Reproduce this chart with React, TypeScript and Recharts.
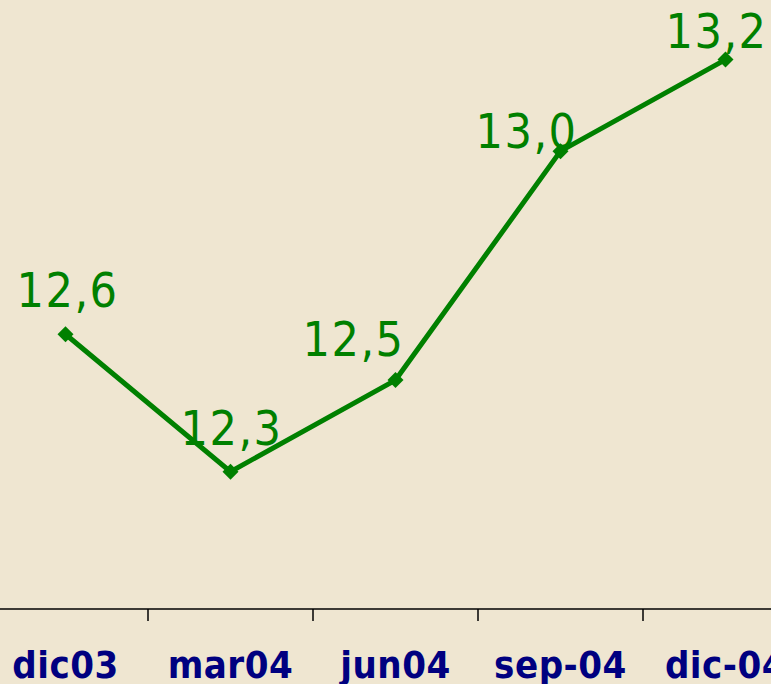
import React from 'react';
import { LineChart, Line, XAxis, YAxis, LabelList } from 'recharts';

const months = ['dic03', 'mar04', 'jun04', 'sep-04', 'dic-04'];
const rates = [12.6, 12.3, 12.5, 13.0, 13.2];

// hand-placed label nudges so the values sit clear of the line
const labelDx = [2, 1, -42, -34, -9];
const labelDy = [-27, -27, -24, -3, -12];

const data = months.map((month, i) => ({ month, rate: rates[i] }));

const BG = '#efe6d1';
const GREEN = '#008000';
const NAVY = '#000080';
const FONT = '"DejaVu Sans Condensed", "DejaVu Sans", sans-serif';

const STEP = 165;

function Diamond(props: any) {
  const { cx, cy } = props;
  if (cx == null || cy == null) return null;
  const r = 8;
  return (
    <path
      d={`M${cx},${cy - r} L${cx + r},${cy} L${cx},${cy + r} L${cx - r},${cy} Z`}
      fill={GREEN}
    />
  );
}

function MonthTick(props: any) {
  const { x, y, payload } = props;
  return (
    <g>
      <line x1={x + STEP / 2} x2={x + STEP / 2} y1={y} y2={y + 12} stroke="#000" strokeWidth={1.5} />
      <text
        x={x}
        y={y + 69}
        textAnchor="middle"
        fill={NAVY}
        fontSize={38}
        fontWeight="bold"
        fontFamily={FONT}
        letterSpacing={0.5}
      >
        {payload.value}
      </text>
    </g>
  );
}

function RateLabel(props: any) {
  const { x, y, value, index } = props;
  return (
    <text
      x={x + labelDx[index]}
      y={y + labelDy[index]}
      textAnchor="middle"
      fill={GREEN}
      fontSize={48}
      fontFamily={FONT}
      letterSpacing={1.5}
    >
      {Number(value).toFixed(1).replace('.', ',')}
    </text>
  );
}

export default function App() {
  return (
    <div
      style={{
        position: 'fixed',
        top: 0,
        left: 0,
        width: 771,
        height: 684,
        overflow: 'hidden',
        background: BG,
      }}
    >
      <div style={{ position: 'absolute', left: -17, top: -32 }}>
        <LineChart width={825} height={721} data={data} margin={{ top: 0, right: 0, left: 0, bottom: 0 }}>
          <XAxis
            dataKey="month"
            height={80}
            padding={{ left: STEP / 2, right: STEP / 2 }}
            axisLine={{ stroke: '#000', strokeWidth: 1.5 }}
            tickLine={false}
            tickSize={0}
            tickMargin={0}
            interval={0}
            tick={<MonthTick />}
          />
          <YAxis hide type="number" domain={[12, 13.4]} />
          <Line
            type="linear"
            dataKey="rate"
            stroke={GREEN}
            strokeWidth={5}
            dot={<Diamond />}
            activeDot={false}
            isAnimationActive={false}
          >
            <LabelList dataKey="rate" content={<RateLabel />} />
          </Line>
        </LineChart>
      </div>
    </div>
  );
}
